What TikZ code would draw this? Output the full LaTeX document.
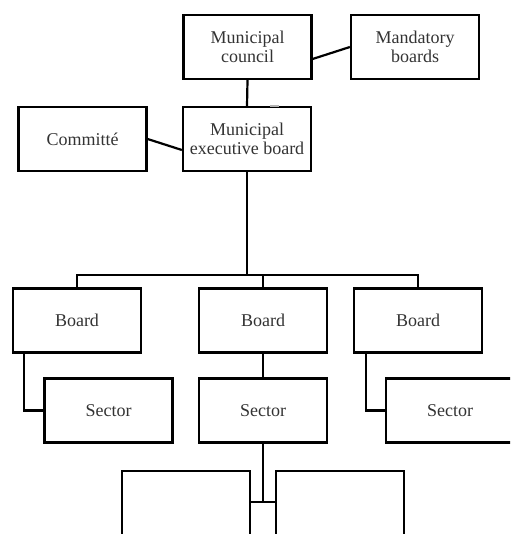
\documentclass[tikz,border=0pt]{standalone}
\usepackage{fontspec}
\setmainfont{Liberation Serif}
\usetikzlibrary{calc}
\begin{document}
\begin{tikzpicture}[x=1pt,y=-1pt,
  box/.style={draw=black, line width=2.2pt, rectangle, minimum width=128pt, minimum height=64pt,
    inner sep=0pt, align=center, text=black!80, font=\fontsize{18}{19}\selectfont},
  link/.style={draw=black, line width=2.2pt}]
\useasboundingbox (0,0) rectangle (510,534);
\clip (0,0) rectangle (510,534);
\node[box] (mc) at (247.5,47) {Municipal\\council};
\node[box] (mb) at (415,47) {Mandatory\\boards};
\node[box] (meb) at (247,139) {Municipal\\executive board};
\node[box] (com) at (82.5,139) {Committé};
\node[box] (b1) at (77,320.5) {Board};
\node[box] (b2) at (263,320.5) {Board};
\node[box] (b3) at (418,320.5) {Board};
\node[box] (s1) at (108.5,410.5) {Sector};
\node[box] (s2) at (263,410.5) {Sector};
\node[box] (s3) at (450,410.5) {Sector};
\node[box, minimum height=80pt] (l1) at (186,511) {};
\node[box, minimum height=80pt] (l2) at (340,511) {};
\coordinate (bus) at (247,275);
\coordinate (j) at (263,502);
\draw[link] ($(mc.east)+(0,12)$) -- (mb.west);
\draw[link] (com.east) -- ($(meb.west)+(0,11)$);
\draw[link] (mc.south) -- (meb.north);
\draw[link] (meb.south) -- (bus);
\draw[link] (b1.north) |- (bus) -| (b3.north);
\draw[link] (b2.north) -- (b2.north |- bus);
\draw[link] ($(b1.south west)+(12,0)$) |- (s1.west);
\draw[link] ($(b3.south west)+(13,0)$) |- (s3.west);
\draw[link] (b2.south) -- (s2.north);
\draw[link] (s2.south) -- (j);
\draw[link] (l1.east |- j) -- (l2.west |- j);
\fill[black!30] (270,105.5) rectangle (279,107.5);
\end{tikzpicture}
\end{document}
